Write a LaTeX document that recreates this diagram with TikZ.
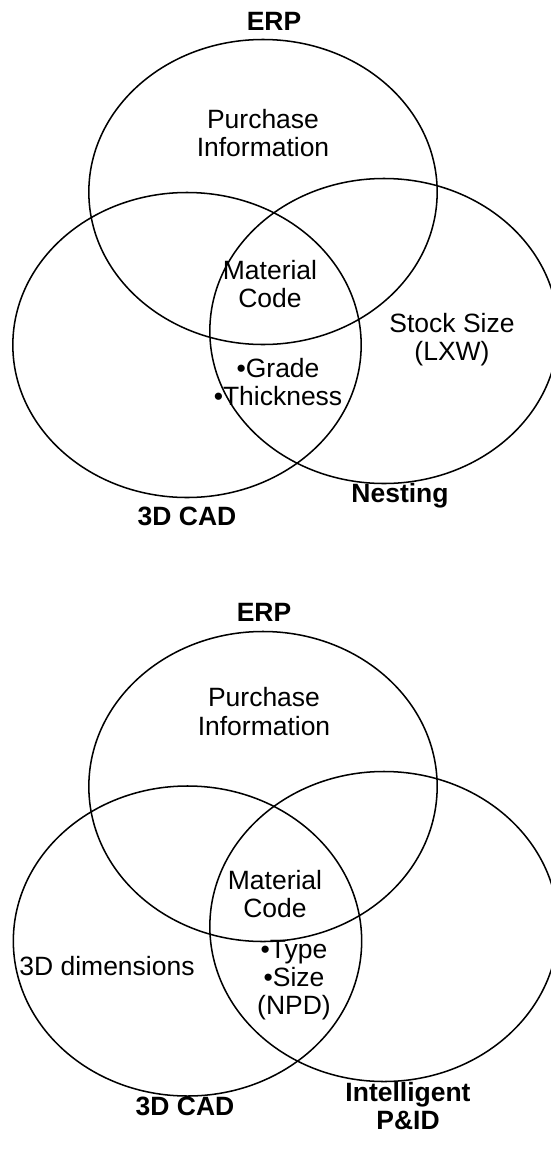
\documentclass[tikz,border=0pt]{standalone}
\usepackage{fontspec}
\setmainfont{Liberation Sans}
\usepackage{tikz}
\usetikzlibrary{shapes}
\tikzstyle{set} = [ellipse, draw=black, line width=1.3pt, minimum width=10.45cm, minimum height=9.15cm]
\tikzstyle{setlow} = [ellipse, draw=black, line width=1.3pt, minimum width=10.45cm, minimum height=9.3cm]
\tikzstyle{info} = [text centered, align=center, inner sep=0pt, font=\fontsize{22.6}{24}\selectfont]
\tikzstyle{system} = [text centered, align=center, inner sep=0pt, font=\fontsize{22.6}{24}\selectfont\bfseries]

\begin{document}
\begin{tikzpicture}[x=0.03cm, y=-0.03cm]
\useasboundingbox (0,0) rectangle (550,1170);

% Figure 1
\node (erp) [set] at (263,192) {};
\node (cad) [set] at (187,345) {};
\node (nest) [set] at (384,331) {};

\node (erplabel) [system] at (274,21) {ERP};
\node (cadlabel) [system] at (187,516) {3D CAD};
\node (nestlabel) [system] at (400,496) {Nesting};

\node (purchase) [info] at (263,133) {Purchase\\Information};
\node (matcode) [info] at (270,284) {Material\\Code};
\node (stock) [info] at (452,340) {Stock Size\\(LXW)};
\node (grade) [info] at (278,382) {•Grade\\•Thickness};

% Figure 2
\node (erp_2) [setlow] at (263,786.5) {};
\node (cad_2) [setlow] at (187.5,941) {};
\node (pid_2) [setlow] at (384,926.5) {};

\node (erplabel_2) [system] at (264,612) {ERP};
\node (cadlabel_2) [system] at (185,1106) {3D CAD};
\node (pidlabel_2) [system] at (408,1106) {Intelligent\\P\&ID};

\node (purchase_2) [info] at (264,711.5) {Purchase\\Information};
\node (matcode_2) [info] at (275,894) {Material\\Code};
\node (dims_2) [info] at (107,966) {3D dimensions};
\node (type_2) [info] at (294,980) {•Type\\•Size\\(NPD)};

\end{tikzpicture}
\end{document}
